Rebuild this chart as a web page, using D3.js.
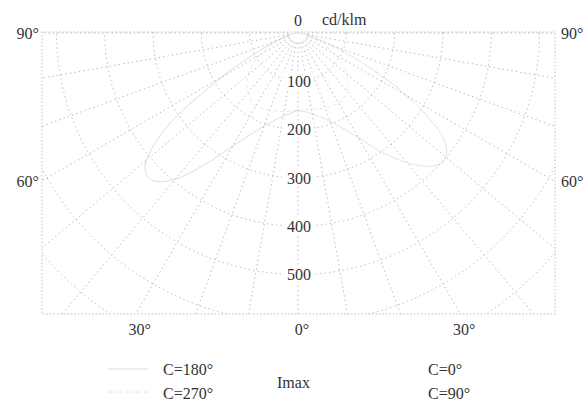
<!DOCTYPE html>
<html>
<head>
<meta charset="utf-8">
<script src="https://cdn.jsdelivr.net/npm/d3@7"></script>
<style>
  body { margin: 0; background: #fff; }
  svg text { font-family: "Liberation Serif", "DejaVu Serif", serif; fill: #333; }
</style>
</head>
<body>
<div class="chart"></div>
<script>
// gamma angles (deg from nadir) and intensities in cd/klm
const gammas = [0, 10, 20, 30, 35, 40, 45, 50, 55, 60, 65, 70, 80, 90]
const c180 = [160, 175, 205, 270, 330, 395, 430, 410, 320, 180, 90, 45, 15, 0]
const c270 = [160, 165, 170, 175, 170, 160, 150, 135, 115, 90, 65, 45, 15, 0]
const c0 = [160, 170, 195, 250, 300, 350, 390, 400, 360, 260, 150, 70, 20, 0]
const c90 = [160, 160, 165, 168, 165, 158, 148, 132, 112, 88, 62, 42, 15, 0]

const ringValues = [100, 200, 300, 400, 500, 600, 700, 800]
const ringLabels = [100, 200, 300, 400, 500]
const spokeAngles = d3.range(-90, 91, 10)
const sideLabels = ["90°", "60°"]
const bottomLabels = ["30°", "0°", "30°"]

const width = 585
const height = 405
const center = { x: 298, y: 33 }
const frame = { x0: 42, x1: 555, y0: 32, y1: 314 }

const r = d3.scaleLinear().domain([0, 100]).range([0, 48.3])

const svg = d3.select(".chart")
  .append("svg")
  .attr("width", width)
  .attr("height", height)

svg.append("clipPath").attr("id", "clip")
  .append("rect")
  .attr("x", frame.x0).attr("y", frame.y0)
  .attr("width", frame.x1 - frame.x0).attr("height", frame.y1 - frame.y0)

const grid = svg.append("g")
  .attr("clip-path", "url(#clip)")
  .attr("fill", "none")
  .attr("stroke", "#aaa")
  .attr("stroke-width", 0.8)
  .attr("stroke-dasharray", "1.5,3")

// rings
grid.selectAll("circle")
  .data(ringValues)
  .enter()
  .append("circle")
    .attr("cx", center.x)
    .attr("cy", center.y)
    .attr("r", d => r(d))

// spokes every 10 degrees, starting a little off the centre
const near = r(20)
const far = 600
grid.selectAll("line")
  .data(spokeAngles)
  .enter()
  .append("line")
    .attr("x1", d => center.x + near * Math.sin(d * Math.PI / 180))
    .attr("y1", d => center.y + near * Math.cos(d * Math.PI / 180))
    .attr("x2", d => center.x + far * Math.sin(d * Math.PI / 180))
    .attr("y2", d => center.y + far * Math.cos(d * Math.PI / 180))

// frame
svg.append("rect")
  .attr("x", frame.x0).attr("y", frame.y0)
  .attr("width", frame.x1 - frame.x0).attr("height", frame.y1 - frame.y0)
  .attr("fill", "none")
  .attr("stroke", "#b0b0b0")
  .attr("stroke-width", 0.8)
  .attr("stroke-dasharray", "1.5,2")

// curves (lineRadial: angle from 12 o'clock, clockwise)
const rad = Math.PI / 180
const rightLine = d3.lineRadial()
  .angle((d, i) => Math.PI - gammas[i] * rad)
  .radius(d => r(d))
  .curve(d3.curveCardinal)
const leftLine = d3.lineRadial()
  .angle((d, i) => Math.PI + gammas[i] * rad)
  .radius(d => r(d))
  .curve(d3.curveCardinal)

const curves = svg.append("g")
  .attr("transform", `translate(${center.x},${center.y})`)
  .attr("fill", "none")
  .attr("stroke", "#9fb3d8")
  .attr("stroke-width", 1)
  .attr("opacity", 0.45)

curves.append("path").attr("d", leftLine(c180))
curves.append("path").attr("d", leftLine(c270)).attr("stroke-dasharray", "4,3").attr("opacity", 0.6)
curves.append("path").attr("d", rightLine(c0)).attr("stroke", "#aaa").attr("opacity", 0.7)
curves.append("path").attr("d", rightLine(c90)).attr("stroke", "#aaa").attr("stroke-dasharray", "4,3").attr("opacity", 0.5)

// ring value labels on the 0 degree axis
const labels = svg.append("g").attr("font-size", 16)
ringLabels.forEach(v => {
  const y = center.y + r(v)
  labels.append("rect")
    .attr("x", center.x - 16).attr("y", y - 9)
    .attr("width", 32).attr("height", 17)
    .attr("fill", "#fff")
  labels.append("text")
    .attr("x", center.x + 1)
    .attr("y", y)
    .attr("dy", "0.35em")
    .attr("text-anchor", "middle")
    .text(v)
})

labels.append("text")
  .attr("x", center.x).attr("y", 20).attr("dy", "0.35em")
  .attr("text-anchor", "middle")
  .text("0")
labels.append("text")
  .attr("x", 322).attr("y", 19).attr("dy", "0.35em")
  .text("cd/klm")

// side angle labels (90 and 60)
const sideY = [frame.y0, center.y + (center.x - frame.x0) * Math.tan(30 * rad)]
sideLabels.forEach((t, i) => {
  labels.append("text")
    .attr("x", 39).attr("y", sideY[i] + 1).attr("dy", "0.35em")
    .attr("text-anchor", "end")
    .text(t)
  labels.append("text")
    .attr("x", 561).attr("y", sideY[i] + 1).attr("dy", "0.35em")
    .text(t)
})

// bottom angle labels
const bottomX = [-30, 0, 30].map(g => center.x + (frame.y1 - center.y) * Math.tan(g * rad))
bottomLabels.forEach((t, i) => {
  labels.append("text")
    .attr("x", bottomX[i] + 4).attr("y", 329).attr("dy", "0.35em")
    .attr("text-anchor", "middle")
    .text(t)
})

// legend
const legend = svg.append("g").attr("font-size", 16)
legend.append("line")
  .attr("x1", 108).attr("x2", 148).attr("y1", 369).attr("y2", 369)
  .attr("stroke", "#dadada").attr("stroke-width", 1)
legend.append("line")
  .attr("x1", 108).attr("x2", 148).attr("y1", 392).attr("y2", 392)
  .attr("stroke", "#e6e6e6").attr("stroke-width", 1).attr("stroke-dasharray", "5,4")
legend.append("text").attr("x", 163).attr("y", 369).attr("dy", "0.35em").text("C=180°")
legend.append("text").attr("x", 163).attr("y", 393).attr("dy", "0.35em").text("C=270°")
legend.append("text").attr("x", 277).attr("y", 382).attr("dy", "0.35em").text("Imax")
legend.append("text").attr("x", 428).attr("y", 369).attr("dy", "0.35em").text("C=0°")
legend.append("text").attr("x", 428).attr("y", 393).attr("dy", "0.35em").text("C=90°")
</script>
</body>
</html>
